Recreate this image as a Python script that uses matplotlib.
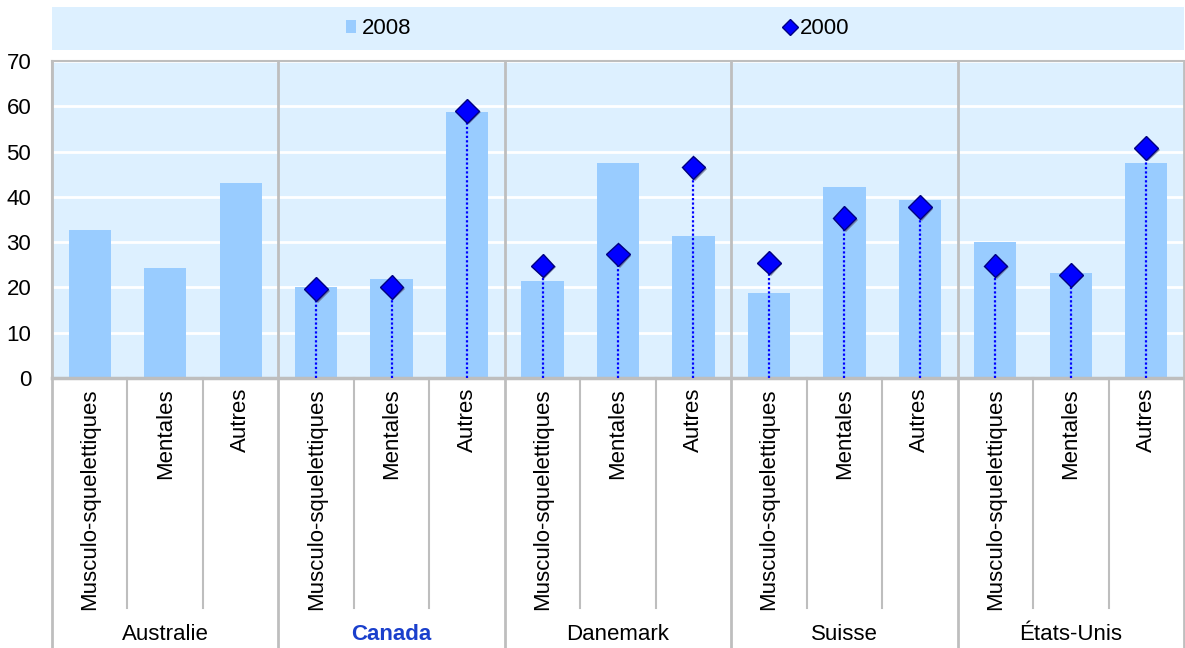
import matplotlib
matplotlib.use("Agg")
import matplotlib.pyplot as plt
from matplotlib.patches import Rectangle
from matplotlib.lines import Line2D
import matplotlib.patheffects as pe

plt.rcParams['font.family'] = ['Liberation Sans', 'DejaVu Sans']

countries = ["Australie", "Canada", "Danemark", "Suisse", "États-Unis"]
causes = ["Musculo-squelettiques", "Mentales", "Autres"]
values_2008 = [32.6, 24.3, 43.0,
               20.2, 21.9, 58.7,
               21.4, 47.4, 31.3,
               18.7, 42.1, 39.4,
               30.1, 23.1, 47.4]
values_2000 = [None, None, None,
               19.6, 20.1, 59.0,
               24.8, 27.3, 46.5,
               25.5, 35.3, 37.7,
               24.8, 22.8, 50.8]
yticks = [0, 10, 20, 30, 40, 50, 60, 70]

BG = "#DDF0FF"
BAR = "#99CCFF"
SEP = "#BEBEBE"
FS = 16
W, H = 1185, 648

fig = plt.figure(figsize=(W / 100, H / 100), dpi=100)
ax_l, ax_r, ax_t, ax_b = 52, 1184, 61, 378
ax = fig.add_axes([ax_l / W, 1 - ax_b / H, (ax_r - ax_l) / W, (ax_b - ax_t) / H])
ax.set_facecolor(BG)

n = len(values_2008)
x = list(range(n))
bars = ax.bar(x, values_2008, width=0.56, color=BAR, zorder=2, label="2008")

# 2000 markers with dotted drop lines
xs = [xi for xi, v in zip(x, values_2000) if v is not None]
ys = [v for v in values_2000 if v is not None]
ax.vlines(xs, 0, ys, colors="#0000FF", linestyles=(0, (1, 1)), linewidth=1.6, zorder=3)
marks, = ax.plot(xs, ys, linestyle="none", marker="D", markersize=12,
                 markerfacecolor="#0000FF", markeredgecolor="#000080",
                 markeredgewidth=1.0, zorder=4, label="2000",
                 path_effects=[pe.SimplePatchShadow(offset=(1.2, -1.2), shadow_rgbFace="#606080", alpha=0.7),
                               pe.Normal()])

ax.set_xlim(-0.5, n - 0.5)
ax.set_ylim(0, 70)
ax.set_yticks(yticks)
ax.yaxis.grid(True, color="white", linewidth=2)
ax.set_axisbelow(True)
ax.tick_params(axis="y", length=0, labelsize=FS, pad=15)
ax.tick_params(axis="x", length=0, labelbottom=False)
for side in ["left", "top", "right"]:
    ax.spines[side].set_color(SEP)
    ax.spines[side].set_linewidth(1.5)
ax.spines["right"].set_visible(False)
ax.spines["bottom"].set_color(SEP)
ax.spines["bottom"].set_linewidth(2.5)

h = ax_b - ax_t
trans = ax.get_xaxis_transform()
# category labels
for i in range(n):
    ax.text(x[i], (ax_b - 388) / h, causes[i % 3], rotation=90, ha="center", va="top",
            fontsize=FS, transform=trans, clip_on=False)
# separators between categories and between countries
for i in range(n + 1):
    xb = i - 0.5
    if i % 3 == 0:
        ax.add_line(Line2D([xb, xb], [1, (ax_b - H) / h], transform=trans, color=SEP,
                           linewidth=2, clip_on=False, zorder=1))
    else:
        ax.add_line(Line2D([xb, xb], [0, (ax_b - 608) / h], transform=trans, color=SEP,
                           linewidth=1.5, clip_on=False, zorder=1))
# country labels
for g, c in enumerate(countries):
    xc = g * 3 + 1
    if c == "Canada":
        ax.text(xc, (ax_b - 634) / h, c, ha="center", va="center", fontsize=FS,
                color="#1A3FCC", fontweight="bold", transform=trans, clip_on=False)
    else:
        ax.text(xc, (ax_b - 634) / h, c, ha="center", va="center", fontsize=FS,
                transform=trans, clip_on=False)

# legend band
fig.patches.append(Rectangle((ax_l / W, 1 - 50 / H), (ax_r - ax_l) / W, 43 / H,
                             transform=fig.transFigure, facecolor=BG, edgecolor="none", zorder=0))
bar_handle = Rectangle((0, 0), 1, 1, facecolor=BAR, edgecolor="none")
mark_handle = Line2D([], [], linestyle="none", marker="D", markersize=8,
                     markerfacecolor="#0000FF", markeredgecolor="#000080")
fig.legend([bar_handle, mark_handle], ["2008", "2000"], loc="center",
           bbox_to_anchor=(598 / W, 1 - 29 / H), ncol=2, frameon=False,
           fontsize=FS, handlelength=0.45, handleheight=0.55, handletextpad=0.25,
           columnspacing=16.8, borderpad=0)

fig.savefig("out.png", dpi=100)
